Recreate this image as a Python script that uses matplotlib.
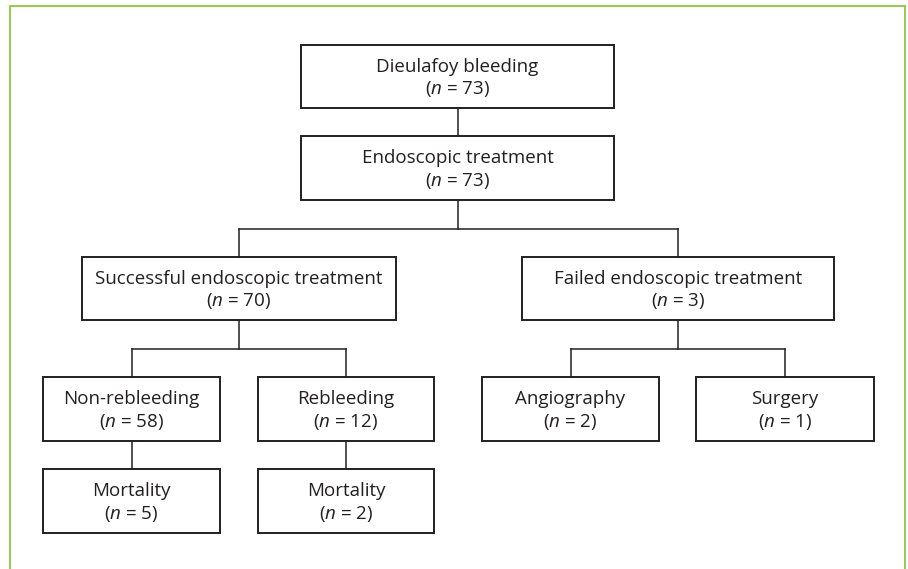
import matplotlib
matplotlib.use('Agg')
import matplotlib.pyplot as plt
from matplotlib.patches import Rectangle

plt.rcParams['font.family'] = ['Open Sans', 'DejaVu Sans']
plt.rcParams['mathtext.fontset'] = 'custom'
plt.rcParams['mathtext.rm'] = 'Open Sans'
plt.rcParams['mathtext.it'] = 'Open Sans:italic'

# flowchart content
labels = ['Dieulafoy bleeding', 'Endoscopic treatment',
          'Successful endoscopic treatment', 'Failed endoscopic treatment',
          'Non-rebleeding', 'Rebleeding', 'Angiography', 'Surgery',
          'Mortality', 'Mortality']
counts = [73, 73, 70, 3, 58, 12, 2, 1, 5, 2]
parents = [None, 0, 1, 1, 2, 2, 3, 3, 4, 5]

# layout in pixels (y grows downward)
levels = [0, 1, 2, 2, 3, 3, 3, 3, 4, 4]
level_y = [(45, 108), (136, 200), (257, 320), (377, 441), (469, 533)]
box_x = [(301, 614), (301, 614), (82, 396), (522, 834),
         (43, 220), (258, 434), (482, 659), (696, 874),
         (43, 220), (258, 434)]

ink = '#231f20'
green = '#8dc641'

fig = plt.figure(figsize=(9.08, 5.69), dpi=100)
ax = fig.add_axes([0, 0, 1, 1])
ax.set_xlim(0, 908)
ax.set_ylim(569, 0)
ax.axis('off')

# green frame (open at the bottom)
ax.plot([10, 10, 905, 905], [575, 6, 6, 575], color=green, lw=1.3,
        solid_joinstyle='miter')

def centre(i):
    x0, x1 = box_x[i]
    y0, y1 = level_y[levels[i]]
    return (x0 + x1) / 2, y0, y1

for i, lab in enumerate(labels):
    x0, x1 = box_x[i]
    y0, y1 = level_y[levels[i]]
    ax.add_patch(Rectangle((x0, y0), x1 - x0, y1 - y0, fill=False,
                           ec=ink, lw=1.4, zorder=3))
    cy = (y0 + y1) / 2
    ax.text((x0 + x1) / 2, cy - 5, lab, ha='center', va='baseline',
            fontsize=13.5, color=ink)
    ax.text((x0 + x1) / 2, cy + 17.5, f'($n$ = {counts[i]})', ha='center',
            va='baseline', fontsize=13.5, color=ink)

# connectors
for p in range(len(labels)):
    kids = [k for k, q in enumerate(parents) if q == p]
    if not kids:
        continue
    px, _, pb = centre(p)
    ktop = level_y[levels[kids[0]]][0]
    if len(kids) == 1:
        ax.plot([px, px], [pb, ktop], color=ink, lw=1.1)
        continue
    mid = (pb + ktop) / 2
    xs = [centre(k)[0] for k in kids]
    ax.plot([px, px], [pb, mid], color=ink, lw=1.1)
    ax.plot([min(xs), max(xs)], [mid, mid], color=ink, lw=1.1)
    for kx in xs:
        ax.plot([kx, kx], [mid, ktop], color=ink, lw=1.1)

fig.savefig('out.png', dpi=100, facecolor='white')
